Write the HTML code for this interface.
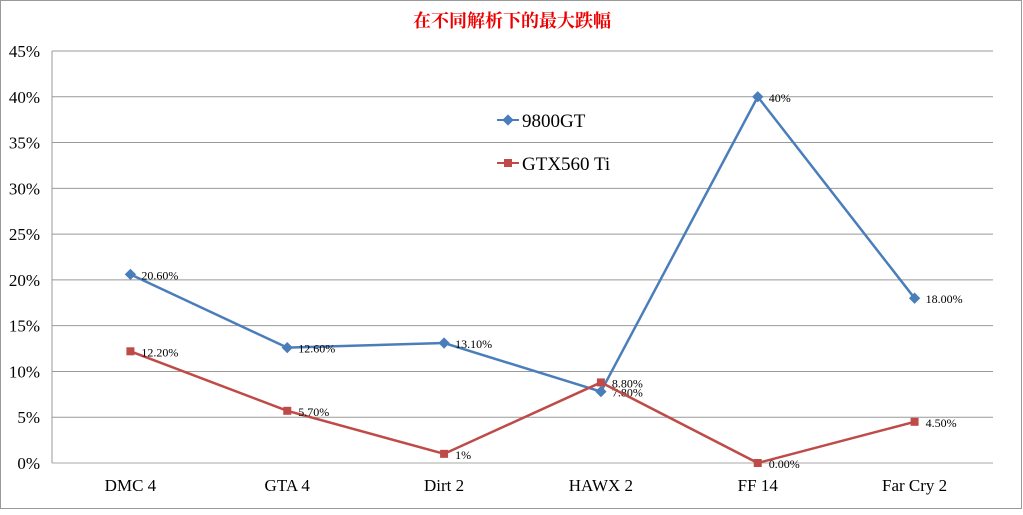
<!DOCTYPE html>
<html><head><meta charset="utf-8"><style>
body{margin:0;background:#fff;}
svg text{font-family:"Liberation Serif","Noto Serif CJK SC",serif;}
</style></head><body>
<svg id="chart" width="1023" height="510" xmlns="http://www.w3.org/2000/svg">
<rect x="0.5" y="0.5" width="1021" height="508" fill="#fff" stroke="#999"/>
<text x="512" y="27" text-anchor="middle" font-size="18" font-weight="bold" fill="#e00" font-family="'Noto Serif CJK SC',serif">在不同解析下的最大跌幅</text>
<g id="grid"></g><g id="series"></g>
<g>
<line x1="497" y1="120" x2="519" y2="120" stroke="#4a7ebb" stroke-width="2"/>
<rect x="504" y="116" width="8" height="8" fill="#4a7ebb" transform="rotate(45 508 120)"/>
<text x="522" y="127" font-size="19">9800GT</text>
<line x1="497" y1="163" x2="519" y2="163" stroke="#be4b48" stroke-width="2"/>
<rect x="504" y="159" width="8" height="8" fill="#be4b48"/>
<text x="522" y="170" font-size="19">GTX560 Ti</text>
</g>
</svg>
<script>
const categories=["DMC 4","GTA 4","Dirt 2","HAWX 2","FF 14","Far Cry 2"];
const s1=[20.6,12.6,13.1,7.8,40,18.0];
const s1Labels=["20.60%","12.60%","13.10%","7.80%","40%","18.00%"];
const s2=[12.2,5.7,1,8.8,0,4.5];
const s2Labels=["12.20%","5.70%","1%","8.80%","0.00%","4.50%"];
const yTicks=[0,5,10,15,20,25,30,35,40,45];
const L=52,R=993,T=51,B=463,ymax=45;
const bw=(R-L)/categories.length;
const X=i=>L+bw*(i+0.5), Y=v=>B-(v/ymax)*(B-T);
const NS="http://www.w3.org/2000/svg";
function mk(p,t,a){const e=document.createElementNS(NS,t);for(const k in a)e.setAttribute(k,a[k]);p.appendChild(e);return e;}
const g=document.getElementById('grid');
yTicks.forEach(v=>{
 const l=mk(g,'line',{x1:L,x2:R,y1:Y(v),y2:Y(v),stroke:v===0?'#aaa':'#999','stroke-width':1});
 
 
 const t=mk(g,'text',{x:40,y:Y(v)+6,'text-anchor':'end','font-size':17});
 t.textContent=v+'%';
 
 
});
const ax=mk(g,'line',{x1:L,x2:L,y1:T,y2:B,stroke:'#999'});


categories.forEach((c,i)=>{
 const t=mk(g,'text',{x:X(i),y:491,'text-anchor':'middle','font-size':17});
 t.textContent=c;
 
 
});
const sg=document.getElementById('series');
function draw(vals,labels,color,diamond,name){
 const p=mk(sg,'polyline',{points:vals.map((v,i)=>X(i)+','+Y(v)).join(' '),fill:'none',stroke:color,'stroke-width':2.5});
 
 
 vals.forEach((v,i)=>{
  const x=X(i),y=Y(v);
  const m=mk(sg,'rect',{x:x-4,y:y-4,width:8,height:8,fill:color});
  if(diamond)m.setAttribute('transform','rotate(45 '+x+' '+y+')');
  
  
  const t=mk(sg,'text',{x:x+11,y:y+5,'font-size':12});
  t.textContent=labels[i];
  
  
 });
}
draw(s1,s1Labels,'#4a7ebb',true,'9800gt');
draw(s2,s2Labels,'#be4b48',false,'gtx560ti');
</script>
</body></html>
